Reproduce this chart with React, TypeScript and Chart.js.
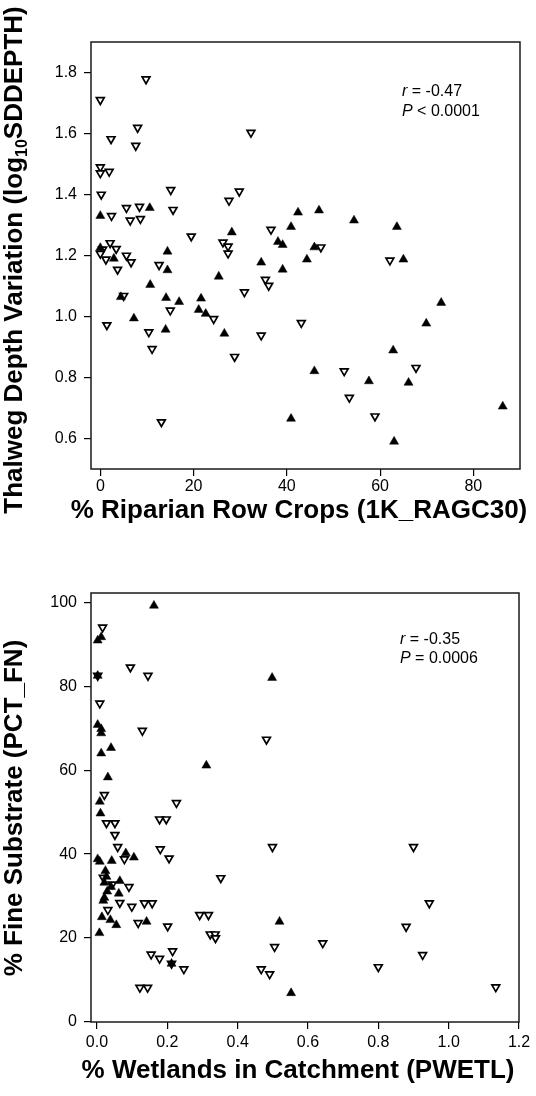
import React, { useEffect, useRef } from "react";
import { Chart, registerables } from "chart.js";

Chart.register(...registerables);

const FONT = "'Liberation Sans', Arial, Helvetica, sans-serif";

// ---------- Top panel: % Riparian Row Crops vs Thalweg depth variation ----------
const TOP_X_TICKS = [0, 20, 40, 60, 80];
const TOP_Y_TICKS = [0.6, 0.8, 1.0, 1.2, 1.4, 1.6, 1.8];

const topFilledX = [10.6, 0, 42.4, 40.9, 28.2, 38.1, 39.1, 34.5, 44.3, 39.1, 0, 2.9, 14.4, 14.4, 10.7, 25.4, 4.4, 14.1, 16.9, 21.6, 21.1, 22.6, 7.2, 14.0, 26.6, 40.9, 46.9, 54.4, 63.6, 45.9, 65.0, 73.1, 69.9, 62.8, 45.9, 57.6, 66.1, 86.3, 63.0];
const topFilledY = [1.356, 1.33, 1.341, 1.294, 1.276, 1.245, 1.235, 1.177, 1.187, 1.154, 1.225, 1.19, 1.213, 1.152, 1.104, 1.131, 1.064, 1.061, 1.048, 1.059, 1.022, 1.009, 0.994, 0.957, 0.944, 0.665, 1.348, 1.315, 1.294, 1.227, 1.187, 1.045, 0.977, 0.889, 0.821, 0.788, 0.783, 0.705, 0.59];

const topOpenX = [9.8, 0, 8.0, 2.3, 7.6, 32.3, 0, 0, 1.9, 0.2, 15.1, 29.8, 27.6, 5.6, 8.4, 15.6, 2.4, 6.4, 8.6, 36.6, 19.5, 26.3, 27.4, 27.4, 0.5, 2.1, 3.4, 0, 1.2, 5.6, 6.6, 3.7, 12.6, 30.9, 35.4, 36.1, 5.0, 24.3, 15.0, 1.4, 10.4, 11.1, 28.8, 34.5, 43.1, 13.1, 47.3, 62.1, 52.3, 67.7, 53.4, 58.9];
const topOpenY = [1.778, 1.71, 1.619, 1.582, 1.56, 1.603, 1.49, 1.47, 1.475, 1.40, 1.415, 1.41, 1.38, 1.356, 1.36, 1.35, 1.33, 1.315, 1.32, 1.285, 1.263, 1.243, 1.23, 1.207, 1.22, 1.241, 1.222, 1.206, 1.187, 1.2, 1.178, 1.154, 1.169, 1.08, 1.121, 1.101, 1.068, 0.992, 1.02, 0.972, 0.949, 0.894, 0.868, 0.938, 0.979, 0.654, 1.227, 1.184, 0.821, 0.832, 0.734, 0.673];

// ---------- Bottom panel: % Wetlands vs % Fine substrate ----------
const BOT_X_TICKS = [0.0, 0.2, 0.4, 0.6, 0.8, 1.0, 1.2];
const BOT_Y_TICKS = [0, 20, 40, 60, 80, 100];

const botFilledX = [0.162, 0.002, 0.012, 0.002, 0.311, 0.002, 0.012, 0.012, 0.040, 0.012, 0.031, 0.498, 0.008, 0.010, 0.002, 0.008, 0.042, 0.082, 0.105, 0.024, 0.027, 0.021, 0.040, 0.065, 0.029, 0.062, 0.021, 0.018, 0.014, 0.038, 0.055, 0.141, 0.007, 0.212, 0.519, 0.552];
const botFilledY = [99.2, 90.9, 91.7, 82.5, 61.1, 70.8, 69.8, 68.8, 65.3, 64.0, 58.3, 82.0, 52.5, 49.7, 38.8, 38.2, 38.4, 40.2, 39.2, 36.0, 34.6, 33.2, 32.2, 33.6, 31.1, 30.6, 29.6, 28.9, 25.0, 24.3, 23.1, 23.9, 21.2, 13.9, 23.9, 6.9];

const botOpenX = [0.016, 0.095, 0.145, 0.002, 0.008, 0.129, 0.482, 0.021, 0.226, 0.027, 0.051, 0.178, 0.197, 0.051, 0.059, 0.180, 0.078, 0.205, 0.352, 0.018, 0.043, 0.091, 0.065, 0.099, 0.135, 0.157, 0.031, 0.292, 0.317, 0.117, 0.201, 0.322, 0.336, 0.337, 0.215, 0.154, 0.178, 0.212, 0.247, 0.122, 0.144, 0.499, 0.900, 0.945, 0.879, 0.505, 0.642, 0.926, 0.467, 0.491, 0.800, 1.134];
const botOpenY = [94.0, 84.5, 82.5, 82.5, 75.9, 69.4, 67.3, 54.1, 52.2, 47.4, 47.4, 48.3, 48.3, 44.6, 41.7, 41.2, 38.8, 39.0, 34.3, 34.4, 32.8, 32.2, 28.4, 27.5, 28.3, 28.3, 26.7, 25.5, 25.5, 23.6, 22.8, 20.9, 20.9, 20.0, 16.9, 16.1, 15.1, 13.9, 12.6, 8.2, 8.2, 41.7, 41.7, 28.3, 22.7, 17.9, 18.8, 16.0, 12.6, 11.4, 13.1, 8.3];

type Part = { text: string; font: string; dy?: number };

const TITLE_FONT = `bold 26px ${FONT}`;
const SUB_FONT = `bold 16px ${FONT}`;
const NOTE_FONT = `16px ${FONT}`;
const NOTE_ITALIC = `italic 16px ${FONT}`;

function drawParts(ctx: CanvasRenderingContext2D, parts: Part[], x: number, y: number, center: boolean) {
  let total = 0;
  for (const p of parts) {
    ctx.font = p.font;
    total += ctx.measureText(p.text).width;
  }
  let cx = center ? x - total / 2 : x;
  for (const p of parts) {
    ctx.font = p.font;
    ctx.fillText(p.text, cx, y + (p.dy || 0));
    cx += ctx.measureText(p.text).width;
  }
}

function pts(xs: number[], ys: number[]) {
  return xs.map((x, i) => ({ x, y: ys[i] }));
}

interface PanelSpec {
  filled: { x: number; y: number }[];
  open: { x: number; y: number }[];
  xMin: number; xMax: number; xTicks: number[]; xFmt: (v: number) => string; xPad: number;
  yMin: number; yMax: number; yTicks: number[]; yFmt: (v: number) => string;
  padTop: number; padRight: number; xAxisHeight: number;
  xTitle: Part[]; xTitlePos: [number, number];
  yTitle: Part[]; yTitlePos: [number, number];
  notes: Part[][]; notePos: [number, number]; noteGap: number;
}

function makeConfig(s: PanelSpec): any {
  const decor = {
    id: "decor",
    afterDraw(chart: any) {
      const ctx: CanvasRenderingContext2D = chart.ctx;
      const a = chart.chartArea;
      ctx.save();
      ctx.strokeStyle = "#1a1a1a";
      ctx.lineWidth = 1.5;
      ctx.strokeRect(a.left, a.top, a.right - a.left, a.bottom - a.top);
      ctx.fillStyle = "#000";
      ctx.textBaseline = "middle";
      drawParts(ctx, s.xTitle, s.xTitlePos[0], s.xTitlePos[1], true);
      ctx.save();
      ctx.translate(s.yTitlePos[0], s.yTitlePos[1]);
      ctx.rotate(-Math.PI / 2);
      drawParts(ctx, s.yTitle, 0, 0, true);
      ctx.restore();
      s.notes.forEach((line, i) => {
        drawParts(ctx, line, s.notePos[0], s.notePos[1] + i * s.noteGap, false);
      });
      ctx.restore();
    },
  };
  const tickFont = { family: FONT, size: 16 };
  return {
    type: "scatter",
    data: {
      datasets: [
        {
          label: "filled",
          data: s.filled,
          pointStyle: "triangle",
          pointRadius: 5.2,
          backgroundColor: "#000",
          borderColor: "#000",
          borderWidth: 0.5,
          order: 0,
        },
        {
          label: "open",
          data: s.open,
          pointStyle: "triangle",
          rotation: 180,
          pointRadius: 4.5,
          backgroundColor: "#fff",
          borderColor: "#000",
          borderWidth: 1.7,
          order: 1,
        },
      ],
    },
    options: {
      responsive: false,
      animation: false,
      devicePixelRatio: 1,
      layout: { padding: { top: s.padTop, right: s.padRight, left: 0, bottom: 0 } },
      plugins: { legend: { display: false }, tooltip: { enabled: false } },
      scales: {
        x: {
          type: "linear",
          min: s.xMin,
          max: s.xMax,
          afterBuildTicks: (sc: any) => { sc.ticks = s.xTicks.map((v) => ({ value: v })); },
          afterFit: (sc: any) => { sc.height = s.xAxisHeight; sc.paddingLeft = 0; sc.paddingRight = 0; },
          ticks: { font: tickFont, color: "#000", padding: s.xPad, maxRotation: 0, autoSkip: false, callback: (v: number) => s.xFmt(v) },
          grid: { display: true, drawOnChartArea: false, drawTicks: true, tickLength: 7, color: "#000", lineWidth: 1.2 },
          border: { display: false },
        },
        y: {
          type: "linear",
          min: s.yMin,
          max: s.yMax,
          afterBuildTicks: (sc: any) => { sc.ticks = s.yTicks.map((v) => ({ value: v })); },
          afterFit: (sc: any) => { sc.width = 91; sc.paddingTop = 0; sc.paddingBottom = 0; },
          ticks: { font: tickFont, color: "#000", padding: 7, autoSkip: false, callback: (v: number) => s.yFmt(v) },
          grid: { display: true, drawOnChartArea: false, drawTicks: true, tickLength: 7, color: "#000", lineWidth: 1.2 },
          border: { display: false },
        },
      },
    },
    plugins: [decor],
  };
}

const topSpec: PanelSpec = {
  filled: pts(topFilledX, topFilledY),
  open: pts(topOpenX, topOpenY),
  xMin: -2, xMax: 90, xTicks: TOP_X_TICKS, xFmt: (v) => String(v), xPad: 1,
  yMin: 0.5, yMax: 1.9, yTicks: TOP_Y_TICKS, yFmt: (v) => v.toFixed(1),
  padTop: 42, padRight: 16, xAxisHeight: 79,
  xTitle: [{ text: "% Riparian Row Crops (1K_RAGC30)", font: TITLE_FONT }],
  xTitlePos: [299, 511],
  yTitle: [
    { text: "Thalweg Depth Variation (log", font: TITLE_FONT },
    { text: "10", font: SUB_FONT, dy: 8 },
    { text: "SDDEPTH)", font: TITLE_FONT },
  ],
  yTitlePos: [15, 260],
  notes: [
    [{ text: "r", font: NOTE_ITALIC }, { text: " = -0.47", font: NOTE_FONT }],
    [{ text: "P", font: NOTE_ITALIC }, { text: " < 0.0001", font: NOTE_FONT }],
  ],
  notePos: [402, 92], noteGap: 20,
};

const botSpec: PanelSpec = {
  filled: pts(botFilledX, botFilledY),
  open: pts(botOpenX, botOpenY),
  xMin: -0.017, xMax: 1.2, xTicks: BOT_X_TICKS, xFmt: (v) => v.toFixed(1), xPad: 4,
  yMin: 0, yMax: 102.2, yTicks: BOT_Y_TICKS, yFmt: (v) => String(v),
  padTop: 45, padRight: 17, xAxisHeight: 74,
  xTitle: [{ text: "% Wetlands in Catchment (PWETL)", font: TITLE_FONT }],
  xTitlePos: [298, 523],
  yTitle: [{ text: "% Fine Substrate (PCT_FN)", font: TITLE_FONT }],
  yTitlePos: [15, 260],
  notes: [
    [{ text: "r", font: NOTE_ITALIC }, { text: " = -0.35", font: NOTE_FONT }],
    [{ text: "P", font: NOTE_ITALIC }, { text: " = 0.0006", font: NOTE_FONT }],
  ],
  notePos: [400, 92], noteGap: 19,
};

export default function App() {
  const topRef = useRef<HTMLCanvasElement>(null);
  const botRef = useRef<HTMLCanvasElement>(null);

  useEffect(() => {
    const c1 = new Chart(topRef.current as HTMLCanvasElement, makeConfig(topSpec));
    const c2 = new Chart(botRef.current as HTMLCanvasElement, makeConfig(botSpec));
    return () => {
      c1.destroy();
      c2.destroy();
    };
  }, []);

  return (
    <div style={{ position: "absolute", left: 0, top: 0, width: 536, height: 1096, background: "#fff" }}>
      <canvas ref={topRef} width={536} height={548} style={{ display: "block", width: 536, height: 548 }} />
      <canvas ref={botRef} width={536} height={548} style={{ display: "block", width: 536, height: 548 }} />
    </div>
  );
}
